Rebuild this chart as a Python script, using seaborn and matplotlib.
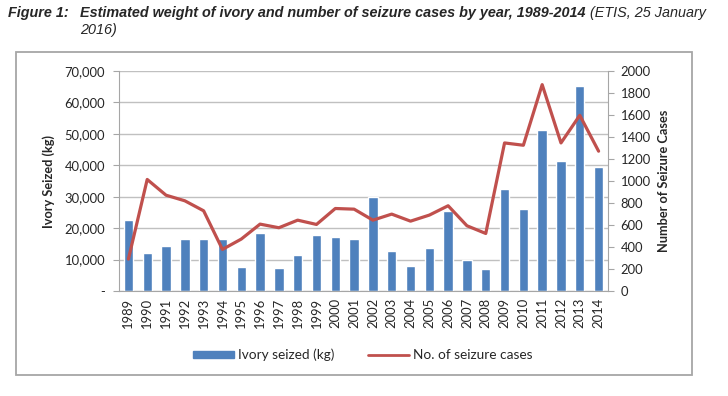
import numpy as np
import pandas as pd
import seaborn as sns
from matplotlib import pyplot as plt
from matplotlib.ticker import FuncFormatter, MultipleLocator
from matplotlib.patches import Rectangle, Patch
from matplotlib.lines import Line2D

# data
years = [str(y) for y in range(1989, 2015)]
ivory_kg = [22600, 12000, 14300, 16500, 16500, 16500, 7700, 18500, 7200, 11300,
            17800, 17300, 16500, 30000, 12800, 7950, 13550, 25500, 9850, 6900,
            32600, 26150, 51150, 41300, 65100, 39300]
cases = [290, 1014, 871, 820, 729, 378, 472, 608, 575, 644,
         605, 750, 744, 644, 699, 635, 690, 775, 593, 523,
         1346, 1325, 1876, 1346, 1597, 1271]

df = pd.DataFrame({'Year': years, 'Ivory': ivory_kg, 'Cases': cases})
df['pos'] = np.arange(len(df))

blue = '#4F81BD'
red = '#C0504D'
grey = '#A6A6A6'

sns.set_style('white')
plt.rcParams['font.family'] = ['Lato', 'DejaVu Sans']

fig = plt.figure(figsize=(7.28, 3.96), dpi=100)

# outer frame
fig.patches.append(Rectangle((16 / 728, 1 - 375 / 396), (692 - 16) / 728, (375 - 52) / 396,
                             transform=fig.transFigure, fill=False, edgecolor=grey, lw=1.3))

ax = fig.add_axes([119 / 728, 1 - 291 / 396, (608 - 119) / 728, (291 - 71) / 396])

# title
tfont = ['Liberation Sans', 'DejaVu Sans']
tsize = 10.4
fig.text(8 / 728, 1 - 17 / 396, 'Figure 1:', family=tfont, fontsize=tsize,
         fontweight='bold', style='italic')
t2 = fig.text(80 / 728, 1 - 17 / 396, 'Estimated weight of ivory and number of seizure cases by year, 1989-2014',
              family=tfont, fontsize=tsize, fontweight='bold', style='italic')
ax.annotate(' (ETIS, 25 January', xy=(1, 0), xycoords=t2, va='bottom', ha='left',
            family=tfont, fontsize=tsize, style='italic', annotation_clip=False)
fig.text(80 / 728, 1 - 34 / 396, '2016)', family=tfont, fontsize=tsize, style='italic')

sns.barplot(data=df, x='pos', y='Ivory', color=blue, width=0.5, saturation=1, ax=ax)
ax.set_ylim(0, 70000)
ax.set_xlim(-0.5, len(df) - 0.5)
ax.yaxis.set_major_locator(MultipleLocator(10000))
ax.yaxis.set_major_formatter(FuncFormatter(lambda v, p: '-' if v == 0 else f'{int(v):,}'))
ax.grid(axis='y', color='#C0C0C0', lw=1)
ax.set_axisbelow(True)
ax.set_xticks(np.arange(len(df)))
ax.set_xticklabels(years, rotation=90, fontsize=9.4)
ax.set_xticks(np.arange(len(df) + 1) - 0.5, minor=True)
ax.tick_params(axis='x', which='major', length=0, pad=5)
ax.tick_params(axis='x', which='minor', length=4, color=grey, direction='out')
ax.tick_params(axis='y', length=4, color=grey, direction='out', labelsize=9.4, pad=6)
ax.set_xlabel('')
ax.set_ylabel('Ivory Seized (kg)', fontsize=9.2, fontweight='bold', labelpad=7)
for s in ['top', 'right']:
    ax.spines[s].set_visible(False)
for s in ['left', 'bottom']:
    ax.spines[s].set_color(grey)

ax2 = ax.twinx()
sns.lineplot(data=df, x='pos', y='Cases', color=red, lw=2.3, ax=ax2)
ax2.set_ylim(0, 2000)
ax2.set_xlim(-0.5, len(df) - 0.5)
ax2.yaxis.set_major_locator(MultipleLocator(200))
ax2.tick_params(axis='y', length=4, color=grey, direction='out', labelsize=9.4, pad=5)
ax2.set_ylabel('Number of Seizure Cases', fontsize=9.2, fontweight='bold', labelpad=5)
for s in ['top', 'left', 'bottom']:
    ax2.spines[s].set_visible(False)
ax2.spines['right'].set_color(grey)

handles = [Patch(color=blue, label='Ivory seized (kg)'),
           Line2D([], [], color=red, lw=2, label='No. of seizure cases')]
fig.legend(handles=handles, loc='center', bbox_to_anchor=(363 / 728, 1 - 355 / 396), ncol=2,
           frameon=False, fontsize=9.8, handlelength=3.0, handleheight=0.45,
           columnspacing=2.5, handletextpad=0.3)

plt.savefig('out.png', dpi=100)
